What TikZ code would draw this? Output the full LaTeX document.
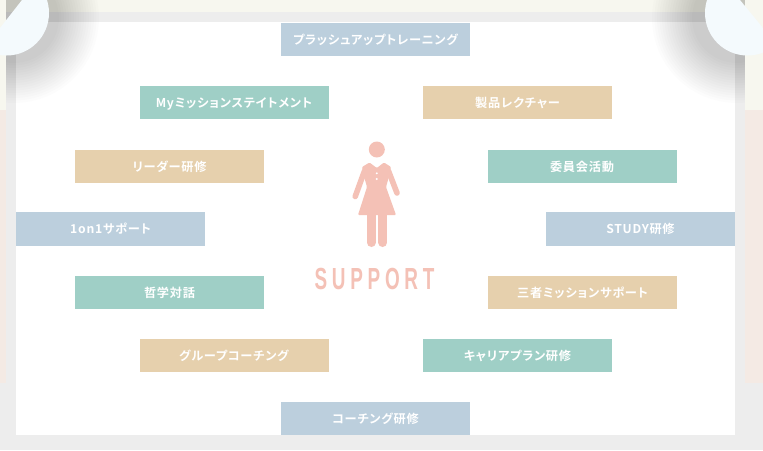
\documentclass[tikz,border=0pt]{standalone}
\usepackage{fontspec}
\setmainfont{Noto Sans CJK JP}[LetterSpace=6,RawFeature=+palt,BoldFont={Noto Sans CJK JP Bold}]
\newfontfamily\supportfont{Liberation Sans}[LetterSpace=25,BoldFont={Liberation Sans Bold}]
\definecolor{bluebox}{HTML}{BCCFDD}
\definecolor{tanbox}{HTML}{E6D0AD}
\definecolor{tealbox}{HTML}{9FCFC6}
\definecolor{figpink}{HTML}{F4C1B6}
\definecolor{creambg}{HTML}{F7F7EF}
\definecolor{pinkbg}{HTML}{F4EAE4}
\definecolor{framegray}{HTML}{EDEDED}
\definecolor{cornerblue}{HTML}{F4FAFD}
\begin{document}
\begin{tikzpicture}[x=1pt,y=-1pt,font=\fontsize{12.2}{14}\selectfont\bfseries]
      \tikzstyle{item}=[minimum width=189pt,minimum height=33.5pt,inner sep=0pt,text=white,text depth=0pt,text height=9pt]
      \tikzstyle{blue item}=[item,fill=bluebox]
      \tikzstyle{tan item}=[item,fill=tanbox]
      \tikzstyle{teal item}=[item,fill=tealbox]
      \tikzstyle{limb}=[line width=5.6pt,line cap=round,figpink]
      \tikzstyle{leg}=[line width=9pt,line cap=round,figpink]

      \useasboundingbox (0,0) rectangle (763,450);
      % page background
      \fill[creambg] (0,0) rectangle (763,110);
      \fill[pinkbg] (0,110) rectangle (763,383);
      \fill[framegray] (0,383) rectangle (763,450);
      \fill[framegray] (6,12) rectangle (745,450);
      \fill[white] (16,22) rectangle (735,435);

      % shadow below the corners
      \begin{scope}
        \clip (6,0) rectangle (745,450);
        \foreach \r in {45,47.5,...,85} {
          \fill[black,opacity=.011] (14,18) circle (\r);
          \fill[black,opacity=.011] (737,18) circle (\r);
        }
      \end{scope}

      % corner pins, each with its outer corner cut off
      \begin{scope}
        \clip (0,28) -- (22,0) -- (70,0) -- (70,70) -- (0,70) -- cycle;
        \fill[cornerblue] (6.5,13) circle (42.5);
      \end{scope}
      \begin{scope}
        \clip (763,28) -- (740,0) -- (690,0) -- (690,70) -- (763,70) -- cycle;
        \fill[cornerblue] (747.5,13) circle (42.5);
      \end{scope}

      % items
      \node(brushup)[blue item] at (375.5,39.5) {プラッシュアップトレーニング};
      \node(mission)[teal item] at (234,102.5) {Myミッションステイトメント};
      \node(lecture)[tan item] at (517.5,102.5) {製品レクチャー};
      \node(leader)[tan item] at (169.5,166.5) {リーダー研修};
      \node(committee)[teal item] at (582,166.5) {委員会活動};
      \node(oneonone)[blue item] at (110.5,229) {1on1サポート};
      \node(study)[blue item] at (640.5,229) {STUDY研修};
      \node(philosophy)[teal item] at (169.5,292.5) {哲学対話};
      \node(sansha)[tan item] at (582.5,292.5) {三者ミッションサポート};
      \node(grouping)[tan item] at (234,355.5) {グループコーチング};
      \node(career)[teal item] at (517.5,355.5) {キャリアプラン研修};
      \node(coaching)[blue item] at (375.5,418.5) {コーチング研修};

      % figure
      \fill[figpink] (376.8,149.5) circle (8);
      \draw[limb] (364.5,171) -- (355.2,196.5);
      \draw[limb] (388.5,171) -- (397,193);
      \draw[leg] (371.3,212) -- (371.3,242.5);
      \draw[leg] (382.8,212) -- (382.8,242.5);
      \fill[figpink,rounded corners=1pt] (369.5,162.5) -- (376.8,168) -- (384,162.5) -- (391,167)
        -- (388,180) -- (386,187) -- (396,215) -- (358,215) -- (367,187) -- (365,180) -- (362,167) -- cycle;
      \fill[white] (376.8,173.3) circle (1.1);
      \fill[white] (376.8,179) circle (1.1);
      \node(support)[text=figpink,xscale=.62,inner sep=0pt,font=\supportfont\fontsize{30.5}{34}\selectfont\bfseries] at (374.5,278.5) {SUPPORT};
\end{tikzpicture}
\end{document}
